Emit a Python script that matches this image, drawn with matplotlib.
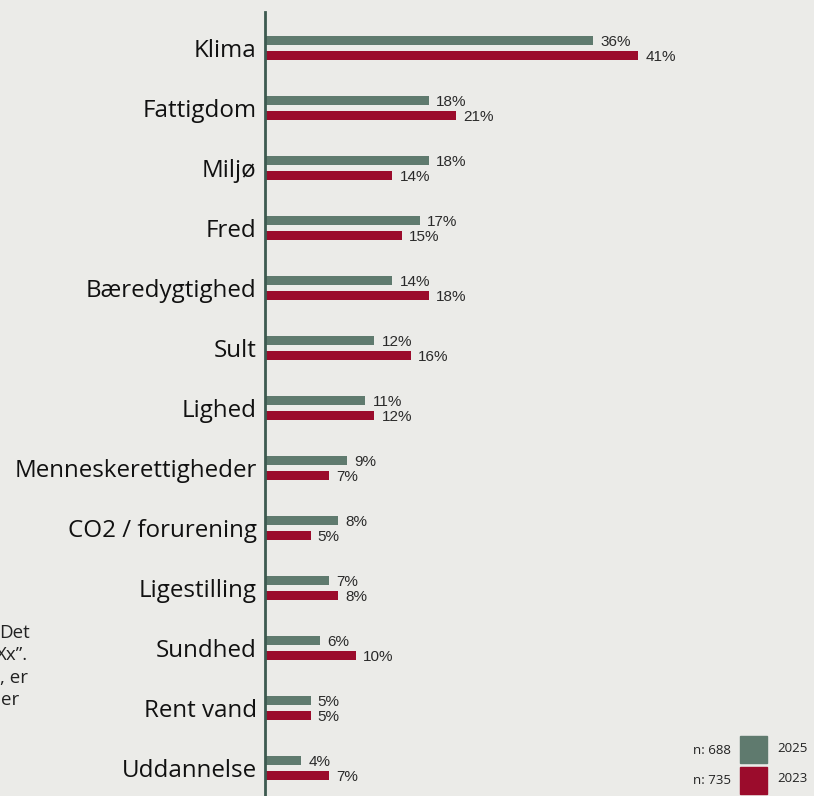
import matplotlib
matplotlib.use("Agg")
import matplotlib.pyplot as plt
from matplotlib.patches import Rectangle

categories = ["Klima", "Fattigdom", "Miljø", "Fred", "Bæredygtighed", "Sult",
              "Lighed", "Menneskerettigheder", "CO2 / forurening", "Ligestilling",
              "Sundhed", "Rent vand", "Uddannelse"]
vals_2025 = [36, 18, 18, 17, 14, 12, 11, 9, 8, 7, 6, 5, 4]
vals_2023 = [41, 21, 14, 15, 18, 16, 12, 7, 5, 8, 10, 5, 7]
legend_years = ["2025", "2023"]
legend_n = ["n: 688", "n: 735"]

bg = "#ebebe8"
green = "#5f7a6e"
red = "#9b0c2c"

fig = plt.figure(figsize=(8.14, 7.96), dpi=100, facecolor=bg)
ax = fig.add_axes([265 / 814, 0, 1 - 265 / 814, 1 - 12 / 796])
ax.set_facecolor(bg)

ys = list(range(len(categories)))
off = 0.128
h = 0.155
ax.barh([y - off for y in ys], vals_2025, height=h, color=green, zorder=2)
ax.barh([y + off for y in ys], vals_2023, height=h, color=red, zorder=2)

for y, v in zip(ys, vals_2025):
    ax.text(v + 0.8, y - off + 0.02, f"{v}%", va="center", ha="left", fontsize=11,
            family="Liberation Sans", color="#2a2a2a")
for y, v in zip(ys, vals_2023):
    ax.text(v + 0.8, y + off + 0.03, f"{v}%", va="center", ha="left", fontsize=11,
            family="Liberation Sans", color="#2a2a2a")

ax.set_xlim(0, 60.3)
ax.set_ylim(12.467, -0.6)
ax.set_yticks(ys)
ax.set_yticklabels(categories, fontsize=17.4, family="Open Sans", color="#111111")
ax.tick_params(axis="y", length=0, pad=6)
ax.set_xticks([])
for s in ["top", "right", "bottom"]:
    ax.spines[s].set_visible(False)
ax.spines["left"].set_color("#3d5a50")
ax.spines["left"].set_linewidth(2)

# note text running in from the left margin
note_lines = ["Det", "Xx\u201d.", ", er", "er"]
note_right = [30, 28, 28, 19]
note_y = [633, 655, 678, 700]
for t, xr, yy in zip(note_lines, note_right, note_y):
    fig.text(xr / 814, 1 - yy / 796, t, ha="right", va="center", fontsize=13.5,
             family="Open Sans", color="#222222")

# legend squares with sample sizes
for i, (yr, n, c) in enumerate(zip(legend_years, legend_n, [green, red])):
    top = 736 + i * 31
    fig.patches.append(Rectangle((740 / 814, 1 - (top + 27) / 796), 27 / 814, 27 / 796,
                                 transform=fig.transFigure, color=c))
    fig.text(731 / 814, 1 - (top + 14) / 796, n, ha="right", va="center",
             fontsize=9.5, family="Open Sans", color="#222222")
    fig.text(777 / 814, 1 - (top + 12) / 796, yr, ha="left", va="center",
             fontsize=9.5, family="Open Sans", color="#222222")

fig.savefig("out.png", dpi=100, facecolor=bg)
